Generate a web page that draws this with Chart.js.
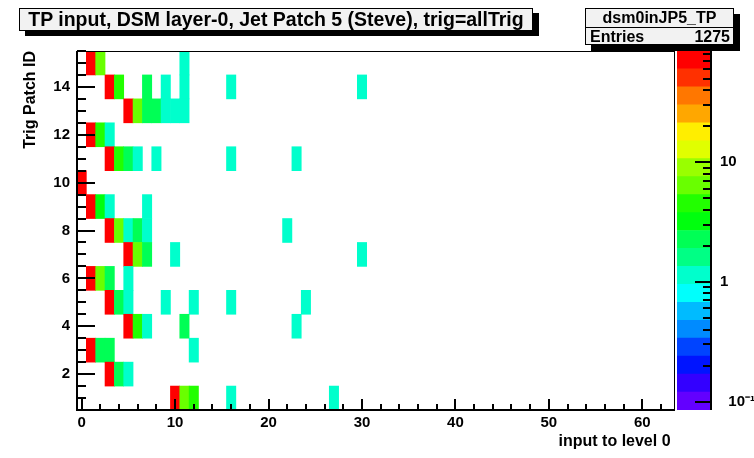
<!DOCTYPE html>
<html>
<head>
<meta charset="utf-8">
<script src="https://cdn.jsdelivr.net/npm/chart.js@4.4.1/dist/chart.umd.min.js"></script>
<style>
  html, body { margin: 0; padding: 0; background: #fff; }
  #wrap { position: relative; width: 754px; height: 458px; overflow: hidden;
          font-family: "Liberation Sans", Arial, sans-serif; font-weight: bold; color: #000; }
  #wrap canvas { position: absolute; left: 0; top: 0; }
  #title { position: absolute; left: 19px; top: 8px; width: 512px; height: 21px;
           border: 1px solid #000; background: #f2f2f2; box-shadow: 6px 5px 0 #000;
           font-size: 19.5px; line-height: 21px; text-align: center; white-space: nowrap; }
  #stats { position: absolute; left: 585px; top: 8px; width: 147px; height: 35px;
           border: 1px solid #000; background: #f2f2f2; box-shadow: 6px 6px 0 #000; font-size: 16px; }
  #stats .name { height: 18px; line-height: 18px; text-align: center; border-bottom: 1px solid #000; }
  #stats .row { display: flex; justify-content: space-between; padding: 0 3px 0 4px; height: 16px; line-height: 17px; }
</style>
</head>
<body>
<div id="wrap">
  <canvas id="main" width="754" height="458"></canvas>
  <canvas id="zbar" width="754" height="458"></canvas>
  <div id="title">TP input, DSM layer-0, Jet Patch 5 (Steve), trig=allTrig</div>
  <div id="stats">
    <div class="name">dsm0inJP5_TP</div>
    <div class="row"><span>Entries</span><span>1275</span></div>
  </div>
</div>
<script>
// x bins: "input to level 0", 0..63
const binLabels = Array.from({ length: 64 }, (_, i) => String(i));
const patchIds = [1, 2, 3, 4, 5, 6, 7, 8, 9, 10, 11, 12, 13, 14, 15];

// filled cells (each patch row sums to 85 events)
const cellPatch = [15, 15, 15,
  14, 14, 14, 14, 14, 14, 14,
  13, 13, 13, 13, 13, 13, 13,
  12, 12, 12,
  11, 11, 11, 11, 11, 11, 11,
  10,
  9, 9, 9, 9,
  8, 8, 8, 8, 8, 8,
  7, 7, 7, 7, 7,
  6, 6, 6, 6,
  5, 5, 5, 5, 5, 5, 5,
  4, 4, 4, 4, 4,
  3, 3, 3, 3,
  2, 2, 2,
  1, 1, 1, 1, 1];
const cellBin = [1, 2, 11,
  3, 4, 7, 9, 11, 16, 30,
  5, 6, 7, 8, 9, 10, 11,
  1, 2, 3,
  3, 4, 5, 6, 8, 16, 23,
  0,
  1, 2, 3, 7,
  3, 4, 5, 6, 7, 22,
  5, 6, 7, 10, 30,
  1, 2, 3, 5,
  3, 4, 5, 9, 12, 16, 24,
  5, 6, 7, 11, 23,
  1, 2, 3, 12,
  3, 4, 5,
  10, 11, 12, 16, 27];
const cellCount = [78, 6, 1,
  75, 4, 2, 1, 1, 1, 1,
  72, 6, 2, 2, 1, 1, 1,
  80, 4, 1,
  75, 4, 2, 1, 1, 1, 1,
  85,
  80, 3, 1, 1,
  74, 6, 1, 2, 1, 1,
  75, 6, 2, 1, 1,
  76, 6, 2, 1,
  78, 2, 1, 1, 1, 1, 1,
  77, 4, 1, 2, 1,
  80, 2, 2, 1,
  82, 2, 1,
  73, 6, 4, 1, 1];

const xTickLabels = [0, 10, 20, 30, 40, 50, 60];
const yTickLabels = [2, 4, 6, 8, 10, 12, 14];
const zTickLabels = [0.1, 1, 10];
const zTickText = { 0.1: '  10\u207B\u00B9', 1: '1', 10: '10' };

// ROOT style log-z colour levels
const nContours = 20;
const zMax = Math.max(...cellCount);
const zMin = 0.001 * zMax;
const logLo = Math.log10(zMin);
const logHi = Math.log10(zMax);
const dz = (logHi - logLo) / nContours;

function bandColor(j) {
  const idx = Math.floor((j + 0.99) * 50 / nContours);
  const hue = 280 - (idx + 1) * 5.6;
  return `hsl(${hue}, 100%, 50%)`;
}

function countColor(v) {
  const j = Math.floor((Math.log10(v) - logLo) / dz);
  return bandColor(Math.min(nContours - 1, Math.max(0, j)));
}

const font = { family: '"Liberation Sans", Arial, sans-serif', weight: 'bold', size: 15 };
const titleFont = { family: '"Liberation Sans", Arial, sans-serif', weight: 'bold', size: 16 };

const rowSets = patchIds.map((p) => {
  const data = binLabels.map(() => null);
  const colors = binLabels.map(() => 'rgba(0,0,0,0)');
  cellPatch.forEach((cp, i) => {
    if (cp !== p) return;
    data[cellBin[i]] = [p - 0.5, p + 0.5];
    colors[cellBin[i]] = countColor(cellCount[i]);
  });
  return { label: 'patch ' + p, data, backgroundColor: colors };
});

// frame + inward ROOT-like ticks
const frameTicks = {
  id: 'frameTicks',
  afterDraw(chart) {
    const { ctx, chartArea: a, scales: { x, y } } = chart;
    ctx.save();
    ctx.strokeStyle = '#000';
    ctx.lineWidth = 1;
    ctx.strokeRect(a.left + 0.5, a.top + 0.5, a.width - 1, a.height - 1);
    ctx.lineWidth = 2;
    ctx.beginPath();
    ctx.moveTo(a.left, a.top);
    ctx.lineTo(a.left, a.bottom);
    ctx.lineTo(a.right, a.bottom);
    ctx.stroke();
    ctx.beginPath();
    for (let v = 0; v < binLabels.length; v += 2) {
      const px = Math.round(x.getPixelForValue(v));
      const len = xTickLabels.includes(v) ? 11 : 6;
      ctx.moveTo(px, a.bottom);
      ctx.lineTo(px, a.bottom - len);
    }
    for (let v = 1; v <= y.max; v += 0.5) {
      const py = Math.round(y.getPixelForValue(v));
      const len = yTickLabels.includes(v) ? 18 : 9;
      ctx.moveTo(a.left, py);
      ctx.lineTo(a.left + len, py);
    }
    ctx.stroke();
    ctx.restore();
  }
};

new Chart(document.getElementById('main'), {
  type: 'bar',
  data: { labels: binLabels, datasets: rowSets },
  options: {
    responsive: false,
    animation: false,
    layout: { padding: { left: 0, top: 51, right: 79, bottom: 0 } },
    plugins: { legend: { display: false }, tooltip: { enabled: false } },
    datasets: { bar: { grouped: false, barPercentage: 1, categoryPercentage: 1, borderWidth: 0 } },
    scales: {
      x: {
        type: 'category',
        offset: true,
        grid: { display: false, drawTicks: false },
        border: { display: false },
        ticks: { autoSkip: false, maxRotation: 0, padding: 4, color: '#000', font },
        afterBuildTicks: (s) => { s.ticks = xTickLabels.map((v) => ({ value: v })); },
        afterFit: (s) => { s.height = 48; },
        title: { display: true, text: 'input to level 0 ', align: 'end', color: '#000', font: titleFont,
                 padding: { top: 0, bottom: 7 } }
      },
      y: {
        type: 'linear',
        min: 0.5,
        max: 15.5,
        grid: { display: false, drawTicks: false },
        border: { display: false },
        ticks: { padding: 7, color: '#000', font },
        afterBuildTicks: (s) => { s.ticks = yTickLabels.map((v) => ({ value: v })); },
        afterFit: (s) => { s.width = 77; },
        title: { display: true, text: 'Trig Patch ID', align: 'end', color: '#000', font: titleFont,
                 padding: { top: 21, bottom: 0 } }
      }
    }
  },
  plugins: [frameTicks]
});

// colour palette on the right
const zBands = Array.from({ length: nContours }, (_, j) => j);
const paletteTicks = {
  id: 'paletteTicks',
  afterDraw(chart) {
    const { ctx, chartArea: a, scales: { y } } = chart;
    ctx.save();
    ctx.strokeStyle = '#000';
    ctx.lineWidth = 2;
    ctx.beginPath();
    ctx.moveTo(a.right, a.top);
    ctx.lineTo(a.right, a.bottom);
    for (const dec of zTickLabels) {
      for (let m = 1; m <= 9; m++) {
        const v = dec * m;
        if (v < zMin || v > zMax) continue;
        const py = Math.round(y.getPixelForValue(v));
        ctx.moveTo(a.right, py);
        ctx.lineTo(a.right - (m === 1 ? 16 : 8), py);
      }
    }
    ctx.stroke();
    ctx.restore();
  }
};

new Chart(document.getElementById('zbar'), {
  type: 'bar',
  data: {
    labels: ['z'],
    datasets: zBands.map((j) => ({
      data: [[Math.pow(10, logLo + j * dz), Math.pow(10, logLo + (j + 1) * dz)]],
      backgroundColor: bandColor(j)
    }))
  },
  options: {
    responsive: false,
    animation: false,
    layout: { padding: { left: 677, top: 51, right: 0, bottom: 48 } },
    plugins: { legend: { display: false }, tooltip: { enabled: false } },
    datasets: { bar: { grouped: false, barPercentage: 1, categoryPercentage: 1, borderWidth: 0 } },
    scales: {
      x: { display: false },
      y: {
        type: 'logarithmic',
        position: 'right',
        min: zMin,
        max: zMax,
        grid: { display: false, drawTicks: false },
        border: { display: false },
        ticks: { padding: 9, color: '#000', font, callback: (v) => zTickText[v] || '' },
        afterBuildTicks: (s) => { s.ticks = zTickLabels.map((v) => ({ value: v })); },
        afterFit: (s) => { s.width = 43; }
      }
    }
  },
  plugins: [paletteTicks]
});
</script>
</body>
</html>
